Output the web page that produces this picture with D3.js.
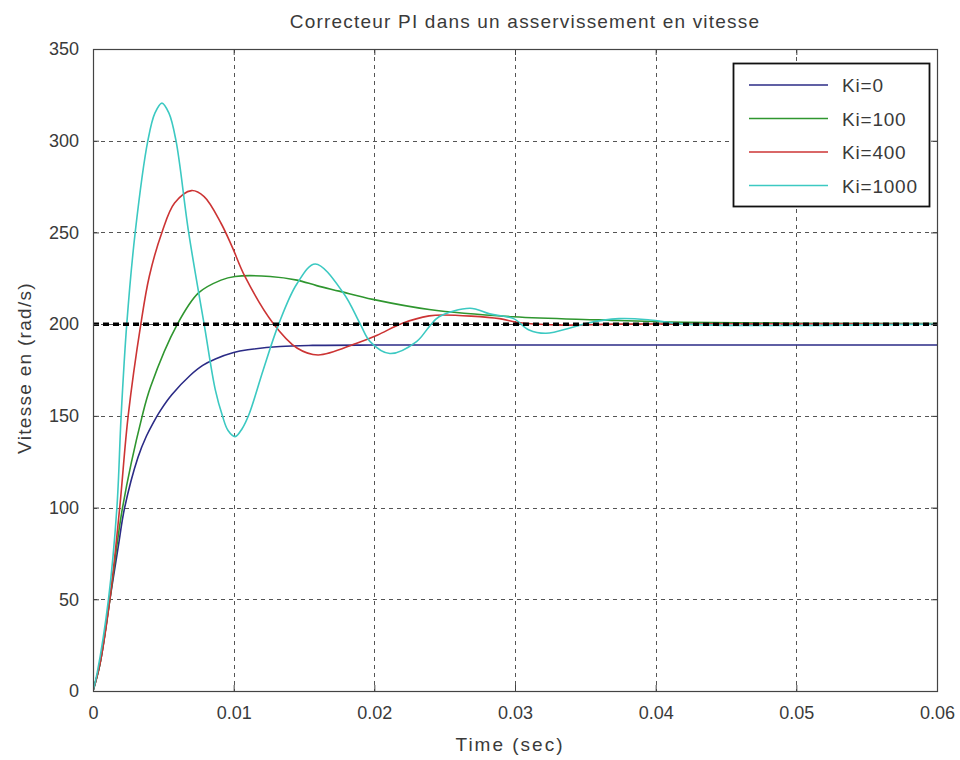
<!DOCTYPE html>
<html>
<head>
<meta charset="utf-8">
<script src="https://cdn.jsdelivr.net/npm/d3@7"></script>
<style>
  html, body { margin: 0; padding: 0; background: #fff; }
  svg { display: block; }
  text { font-family: "Liberation Sans", Arial, sans-serif; fill: #3a3a3a; }
</style>
</head>
<body>
<svg id="chart" width="960" height="760"></svg>
<script>
// Step responses of a speed loop with a PI controller, one series per Ki value
const titleText = "Correcteur PI dans un asservissement en vitesse";
const xLabel = "Time (sec)";
const yLabel = "Vitesse en (rad/s)";

const xTicks = [0, 0.01, 0.02, 0.03, 0.04, 0.05, 0.06];
const xTickLabels = ["0", "0.01", "0.02", "0.03", "0.04", "0.05", "0.06"];
const yTicks = [0, 50, 100, 150, 200, 250, 300, 350];
const yTickLabels = ["0", "50", "100", "150", "200", "250", "300", "350"];

const seriesNames = ["Ki=0", "Ki=100", "Ki=400", "Ki=1000"];
const seriesColors = ["#2b2b86", "#2f962f", "#cc3434", "#3cc9c2"];

const setpoint = 200;

const tKi0 = [0, 0.0005, 0.0012, 0.0018, 0.00225, 0.0032, 0.0038, 0.0043, 0.0048, 0.0056, 0.0069, 0.0078, 0.0087, 0.01, 0.011, 0.0133, 0.0156, 0.02, 0.03, 0.06];
const vKi0 = [0, 15, 50, 79, 100, 127.5, 139, 146.5, 153, 161.5, 172, 177.5, 181, 184.5, 186, 187.8, 188.4, 188.6, 188.6, 188.6];

const tKi100 = [0, 0.0005, 0.0012, 0.0021, 0.0035, 0.0041, 0.006, 0.0075, 0.0091, 0.0101, 0.0126, 0.0145, 0.0159, 0.0175, 0.0199, 0.0239, 0.0299, 0.036, 0.042, 0.06];
const vKi100 = [0, 15, 50, 100, 150, 166, 200, 217, 224, 226, 226, 224, 221, 218, 213.5, 208, 204, 202.3, 201, 200.3];

const tKi400 = [0, 0.0005, 0.0012, 0.0019, 0.0025, 0.0034, 0.004, 0.0049, 0.0058, 0.007, 0.0079, 0.0091, 0.0099, 0.0108, 0.0128, 0.0145, 0.016, 0.0187, 0.0202, 0.022, 0.0239, 0.0249, 0.0289, 0.0301, 0.033, 0.037, 0.045, 0.06];
const vKi400 = [0, 15, 50, 100, 150, 200, 226, 250, 266, 272.8, 269.5, 255, 242, 226, 200.5, 187, 183.2, 189.5, 194, 200.5, 204.5, 205, 203, 201, 199.5, 200, 200.2, 200];

const tKi1000 = [0, 0.0003, 0.0011, 0.0017, 0.002, 0.0024, 0.003, 0.0039, 0.0044, 0.0049, 0.0054, 0.0059, 0.0068, 0.0079, 0.0087, 0.0092, 0.0096, 0.0101, 0.0106, 0.0111, 0.0121, 0.0132, 0.0145, 0.0158, 0.0178, 0.019, 0.0197, 0.0211, 0.023, 0.0239, 0.0246, 0.0268, 0.0282, 0.0299, 0.031, 0.0322, 0.0341, 0.0351, 0.0374, 0.0396, 0.042, 0.06];
const vKi1000 = [0, 10, 50, 100, 150, 200, 250, 300, 315, 320.5, 315, 300, 250, 200, 164, 150, 142, 138.7, 143, 151, 175, 200, 222, 232.8, 217, 200, 190.5, 184, 190.5, 198.6, 204, 208.7, 205.6, 203, 196.8, 195, 198.3, 200.5, 203, 202.3, 200, 200];

const seriesT = [tKi0, tKi100, tKi400, tKi1000];
const seriesV = [vKi0, vKi100, vKi400, vKi1000];

const plot = { left: 93, right: 937, top: 49, bottom: 691 };

const svg = d3.select("#chart");

const x = d3.scaleLinear().domain([0, 0.06]).range([plot.left, plot.right]);
const y = d3.scaleLinear().domain([0, 350]).range([plot.bottom, plot.top]);

// Grid
const grid = svg.append("g").attr("stroke", "#555").attr("stroke-width", 1).attr("stroke-dasharray", "4,4");
grid.selectAll("line.vx").data(xTicks.slice(1, -1)).enter().append("line")
  .attr("x1", d => Math.round(x(d)) + 0.5).attr("x2", d => Math.round(x(d)) + 0.5)
  .attr("y1", plot.top).attr("y2", plot.bottom);
grid.selectAll("line.hy").data(yTicks.slice(1, -1)).enter().append("line")
  .attr("y1", d => Math.round(y(d)) + 0.5).attr("y2", d => Math.round(y(d)) + 0.5)
  .attr("x1", plot.left).attr("x2", plot.right);

// Curves
const line = d3.line().x(d => x(d[0])).y(d => y(d[1])).curve(d3.curveCatmullRom.alpha(0.5));
svg.append("clipPath").attr("id", "plotclip").append("rect")
  .attr("x", plot.left).attr("y", plot.top)
  .attr("width", plot.right - plot.left).attr("height", plot.bottom - plot.top);
const curves = svg.append("g").attr("clip-path", "url(#plotclip)");
seriesT.forEach((ts, i) => {
  const pts = ts.map((t, k) => [t, seriesV[i][k]]);
  curves.append("path").datum(pts)
    .attr("fill", "none").attr("stroke", seriesColors[i]).attr("stroke-width", 1.6)
    .attr("d", line);
});

// Setpoint line
curves.append("line")
  .attr("x1", x(0)).attr("x2", x(0.06))
  .attr("y1", y(setpoint)).attr("y2", y(setpoint))
  .attr("stroke", "#000").attr("stroke-width", 3.5).attr("stroke-dasharray", "6,4");

// Axes frame with inward ticks
const axisG = svg.append("g");
axisG.append("rect")
  .attr("x", plot.left + 0.5).attr("y", plot.top + 0.5)
  .attr("width", plot.right - plot.left).attr("height", plot.bottom - plot.top)
  .attr("fill", "none").attr("stroke", "#444").attr("stroke-width", 1.2);

const xAxisB = d3.axisBottom(x).tickValues(xTicks).tickFormat((d, i) => xTickLabels[i]).tickSizeInner(-6).tickSizeOuter(0).tickPadding(15);
const yAxisL = d3.axisLeft(y).tickValues(yTicks).tickFormat((d, i) => yTickLabels[i]).tickSizeInner(-6).tickSizeOuter(0).tickPadding(14);
const xAxisT = d3.axisTop(x).tickValues(xTicks).tickFormat("").tickSizeInner(-6).tickSizeOuter(0);
const yAxisR = d3.axisRight(y).tickValues(yTicks).tickFormat("").tickSizeInner(-6).tickSizeOuter(0);

function styleAxis(g) {
  g.select(".domain").remove();
  g.selectAll(".tick line").attr("stroke", "#444");
  g.selectAll(".tick text").attr("font-size", 18).attr("fill", "#4a4a4a")
    .attr("font-family", "\"Liberation Sans\", Arial, sans-serif");
}
axisG.append("g").attr("transform", `translate(0,${plot.bottom})`).call(xAxisB).call(styleAxis);
axisG.append("g").attr("transform", `translate(${plot.left},0)`).call(yAxisL).call(styleAxis);
axisG.append("g").attr("transform", `translate(0,${plot.top})`).call(xAxisT).call(styleAxis);
axisG.append("g").attr("transform", `translate(${plot.right},0)`).call(yAxisR).call(styleAxis);

// Titles
svg.append("text").attr("x", 525).attr("y", 28).attr("text-anchor", "middle")
  .attr("font-size", 19).attr("letter-spacing", 1.2).text(titleText);
svg.append("text").attr("x", 510).attr("y", 751).attr("text-anchor", "middle")
  .attr("font-size", 19).attr("letter-spacing", 2).text(xLabel);
svg.append("text").attr("transform", `translate(31,${(plot.top + plot.bottom) / 2 - 2}) rotate(-90)`)
  .attr("text-anchor", "middle").attr("font-size", 19).attr("letter-spacing", 1.3).text(yLabel);

// Legend
const leg = { x: 733, y: 63, w: 196, h: 143 };
const legG = svg.append("g");
legG.append("rect").attr("x", leg.x + 0.5).attr("y", leg.y + 0.5).attr("width", leg.w).attr("height", leg.h)
  .attr("fill", "#fff").attr("stroke", "#111").attr("stroke-width", 1.8);
seriesNames.forEach((name, i) => {
  const yy = leg.y + 22 + i * 33.5;
  legG.append("line").attr("x1", leg.x + 16).attr("x2", leg.x + 95).attr("y1", yy).attr("y2", yy)
    .attr("stroke", seriesColors[i]).attr("stroke-width", 1.6);
  legG.append("text").attr("x", leg.x + 109).attr("y", yy + 7).attr("font-size", 19)
    .attr("letter-spacing", 0.8).text(name);
});
</script>
</body>
</html>
